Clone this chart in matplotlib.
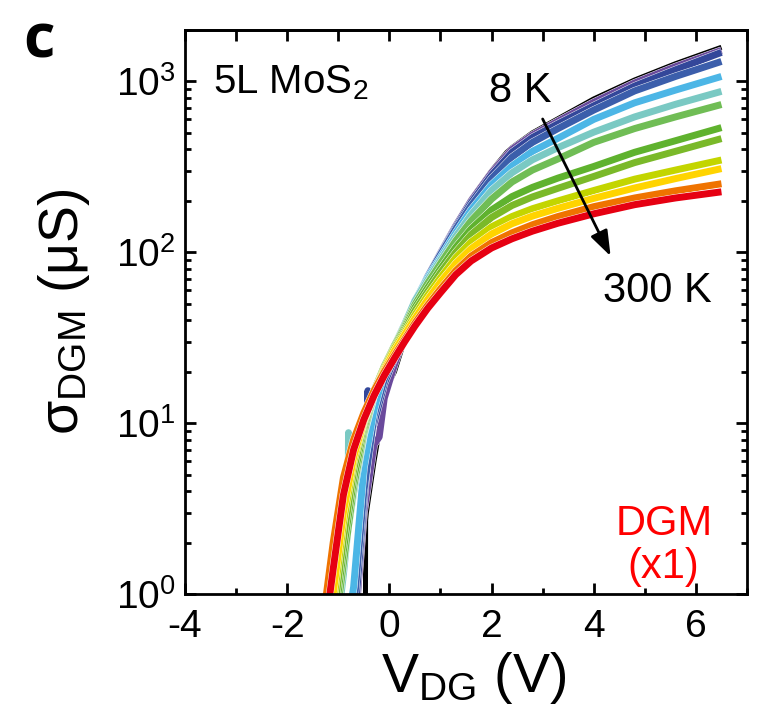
import matplotlib
matplotlib.use("Agg")
import matplotlib.pyplot as plt
import matplotlib.patheffects as pe
from matplotlib.ticker import LogLocator, MultipleLocator, NullFormatter

plt.rcParams['font.family'] = ['Liberation Sans', 'DejaVu Sans']
plt.rcParams['mathtext.fontset'] = 'custom'
plt.rcParams['mathtext.rm'] = 'Liberation Sans'
plt.rcParams['mathtext.it'] = 'Liberation Sans:italic'
plt.rcParams['mathtext.default'] = 'regular'
plt.rcParams['axes.unicode_minus'] = False

# ---------------- data ----------------
grid = [-1.3, -1.1, -0.9, -0.7, -0.5, -0.3, -0.1, 0.1, 0.3, 0.5, 0.75, 1.0,
        1.3, 1.6, 2.0, 2.4, 2.8, 3.3, 4.0, 4.8, 5.6, 6.5]

# 8 K (black) -- own x values (glitchy start)
vdg_8K = [-0.47, -0.465, -0.45, -0.3, -0.2, -0.17, -0.1, 0.1, 0.3, 0.5, 0.75, 1.0,
          1.3, 1.6, 2.0, 2.3, 2.4, 2.8, 3.3, 4.0, 4.8, 5.6, 6.5]
sig_8K = [0.5, 2.7, 3.0, 6.0, 9.0, 14.0, 15.0, 20.0, 31.0, 48.0, 72.0, 100.0,
          145.0, 205.0, 300.0, 385.0, 410.0, 500.0, 605.0, 790.0, 1020.0, 1270.0, 1585.0]

vdg_purple = [-1.1, -0.9, -0.7, -0.5, -0.3, -0.2, -0.1, 0.1, 0.3, 0.5, 0.75, 1.0,
              1.3, 1.6, 2.0, 2.4, 2.8, 3.3, 4.0, 4.8, 5.6, 6.5]
sig_purple = [0.07, 0.2, 0.5, 3.0, 7.5, 8.3, 14.0, 22.0, 33.0, 49.0, 72.0, 99.0,
              143.0, 200.0, 292.0, 400.0, 485.0, 585.0, 755.0, 980.0, 1220.0, 1520.0]

vdg_indigo = [-1.1, -0.9, -0.7, -0.5, -0.43, -0.42, -0.41, -0.3, -0.1, 0.1, 0.3, 0.5, 0.75, 1.0,
              1.3, 1.6, 2.0, 2.4, 2.8, 3.3, 4.0, 4.8, 5.6, 6.5]
sig_indigo = [0.08, 0.25, 0.6, 3.5, 6.0, 15.5, 8.0, 10.0, 17.0, 24.0, 34.0, 50.0, 72.0, 98.0,
              140.0, 195.0, 283.0, 385.0, 470.0, 565.0, 720.0, 940.0, 1170.0, 1480.0]

sig_blue = [0.04, 0.1, 0.3, 0.8, 4.0, 11.0, 18.0, 25.0, 35.0, 51.0, 72.0, 97.0,
            137.0, 188.0, 270.0, 360.0, 440.0, 530.0, 680.0, 880.0, 1070.0, 1310.0]
sig_ltblue = [0.05, 0.15, 0.45, 1.1, 5.5, 12.0, 20.0, 27.0, 37.0, 52.0, 71.0, 93.0,
              130.0, 177.0, 248.0, 320.0, 390.0, 465.0, 600.0, 750.0, 890.0, 1070.0]

vdg_teal = [-1.3, -1.1, -0.9, -0.81, -0.8, -0.79, -0.7, -0.5, -0.3, -0.1, 0.1, 0.3, 0.5, 0.75, 1.0,
            1.3, 1.6, 2.0, 2.4, 2.8, 3.3, 4.0, 4.8, 5.6, 6.5]
sig_teal = [0.12, 0.4, 1.3, 2.4, 8.8, 2.6, 3.9, 8.5, 14.5, 21.5, 28.5, 38.0, 52.0, 69.0, 90.0,
            124.0, 166.0, 230.0, 292.0, 348.0, 410.0, 505.0, 620.0, 735.0, 875.0]

sig_ltgreen = [0.15, 0.5, 1.5, 4.2, 8.8, 14.8, 21.5, 28.5, 37.0, 49.5, 66.0, 86.0,
               117.0, 153.0, 205.0, 258.0, 303.0, 352.0, 440.0, 530.0, 620.0, 733.0]
sig_green = [0.18, 0.6, 1.8, 4.7, 9.3, 15.2, 21.5, 28.5, 36.0, 47.5, 62.0, 80.0,
             107.0, 137.0, 177.0, 212.0, 240.0, 272.0, 318.0, 385.0, 450.0, 537.0]
sig_green2 = [0.2, 0.7, 2.1, 5.3, 9.8, 15.5, 21.5, 28.0, 35.0, 45.5, 59.0, 76.0,
              100.0, 127.0, 160.0, 188.0, 211.0, 237.0, 278.0, 335.0, 390.0, 463.0]
sig_lime = [0.25, 0.85, 2.6, 5.9, 10.2, 15.2, 21.0, 27.5, 34.0, 43.0, 56.0, 71.0,
            93.0, 115.0, 141.0, 162.0, 180.0, 200.0, 230.0, 268.0, 303.0, 347.0]
sig_yellow = [0.3, 1.0, 3.0, 6.3, 10.3, 15.0, 20.5, 26.5, 33.0, 41.0, 53.0, 67.0,
              86.0, 105.0, 128.0, 147.0, 163.0, 181.0, 207.0, 238.0, 270.0, 309.0]
sig_orange = [0.7, 2.0, 4.8, 8.0, 11.5, 15.5, 20.0, 25.0, 31.0, 38.5, 49.0, 61.0,
              78.0, 95.0, 114.0, 130.0, 145.0, 162.0, 185.0, 208.0, 229.0, 252.0]
sig_300K = [0.5, 1.4, 3.8, 7.0, 10.5, 14.5, 19.0, 24.0, 30.0, 37.0, 47.0, 58.0,
            74.0, 89.0, 106.0, 120.0, 133.0, 148.0, 168.0, 190.0, 208.0, 226.0]

curves = [
    (vdg_8K, sig_8K, '#000000', 3.6),
    (vdg_purple, sig_purple, '#6a4a9c', 5.0),
    (vdg_indigo, sig_indigo, '#33479a', 5.0),
    (grid[1:], sig_blue[1:], '#3b5eab', 5.0),
    (grid, sig_ltblue, '#4cb6e6', 5.0),
    (vdg_teal, sig_teal, '#7ac9c3', 5.0),
    (grid, sig_ltgreen, '#70bd55', 5.0),
    (grid, sig_green, '#5fb22e', 5.0),
    (grid, sig_green2, '#7ab929', 5.0),
    (grid, sig_lime, '#c3d500', 5.0),
    (grid, sig_yellow, '#ffd400', 5.0),
    (grid, sig_orange, '#ef7300', 5.0),
    (grid, sig_300K, '#e60012', 5.0),
]

# ---------------- figure ----------------
fig = plt.figure(figsize=(7.69, 7.15), dpi=100)
ax = fig.add_axes([0.2406, 0.1692, 0.7308, 0.7888])

for xs, ys, col, lw in curves:
    ax.plot(xs, ys, color=col, lw=lw, solid_capstyle='butt', solid_joinstyle='round',
            path_effects=[pe.Stroke(linewidth=lw + 0.6, foreground='white'), pe.Normal()])

ax.set_yscale('log')
ax.set_xlim(-4, 7)
ax.set_ylim(1, 2000)

ax.xaxis.set_major_locator(MultipleLocator(2))
ax.xaxis.set_minor_locator(MultipleLocator(1))
ax.yaxis.set_major_locator(LogLocator(base=10, numticks=10))
ax.yaxis.set_minor_locator(LogLocator(base=10, subs=range(2, 10), numticks=20))
ax.yaxis.set_minor_formatter(NullFormatter())

for s in ax.spines.values():
    s.set_linewidth(2)

ax.tick_params(axis='both', which='major', direction='in', length=8, width=2,
               labelsize=28, right=True)
ax.tick_params(axis='both', which='minor', direction='in', length=4.5, width=2, right=True)
ax.tick_params(axis='x', which='major', pad=11)
ax.tick_params(axis='y', which='major', pad=7)

top = ax.secondary_xaxis('top')
top.set_xticks(range(-4, 8))
top.tick_params(direction='in', length=8, width=2, labeltop=False)
top.spines['top'].set_linewidth(2)

ax.set_xlabel('V$_{DG}$ (V)', fontsize=40)
ax.set_ylabel('σ$_{DGM}$ (μS)', fontsize=40)
ax.xaxis.set_label_coords(0.514, -0.10)
ax.yaxis.set_label_coords(-0.165, 0.5)

ax.text(-3.45, 857, '5L MoS$_2$', fontsize=29, va='baseline', ha='left')
ax.text(2.57, 758, '8 K', fontsize=30, va='baseline', ha='center')
ax.text(5.24, 51, '300 K', fontsize=30, va='baseline', ha='center')
ax.text(5.37, 2.22, 'DGM', fontsize=30, va='baseline', ha='center', color='#ff0000')
ax.text(5.37, 1.24, '(x1)', fontsize=30, va='baseline', ha='center', color='#ff0000')

ax.annotate('', xy=(4.33, 95), xytext=(3.0, 603),
            arrowprops=dict(arrowstyle='-|>,head_length=0.7,head_width=0.25',
                            color='black', lw=2, mutation_scale=22,
                            shrinkA=0, shrinkB=0))

fig.text(0.030, 0.919, 'c', fontsize=44, fontweight='bold', family='Open Sans',
         va='baseline', ha='left')

fig.savefig('out.png', dpi=100)
